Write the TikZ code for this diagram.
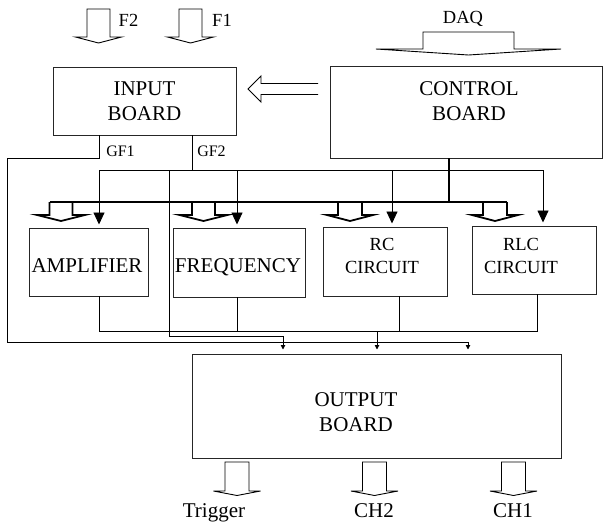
\documentclass[tikz,border=0pt]{standalone}
\usepackage{fontspec}
\setmainfont{Liberation Serif}
\usetikzlibrary{arrows.meta}
\begin{document}
\begin{tikzpicture}[x=1pt,y=-1pt,
  box/.style={draw=black!85, line width=1pt, inner sep=0pt, outer sep=0pt},
  wire/.style={line width=0.9pt},
  bus/.style={line width=2.6pt},
  txt/.style={inner sep=0pt, align=center, font=\fontsize{21}{25}\selectfont},
  smalltxt/.style={inner sep=0pt, align=center, font=\fontsize{18.5}{23}\selectfont},
  tagtxt/.style={inner sep=0pt, font=\fontsize{16}{18}\selectfont},
  bigtip/.style={-{Triangle[width=11pt,length=12pt]}, shorten >=3.5pt},
  tinytip/.style={-{Triangle[width=4.5pt,length=4.5pt]}, shorten >=4.5pt},
  % hollow block arrow pointing down: shaft half width / shaft length / head half width / head length
  pics/openblock/.style args={#1/#2/#3/#4}{code={
    \path[pic actions] (-#1,0) -- (-#1,#2) -- (-#3,#2) -- (0,#2+#4) -- (#3,#2) -- (#1,#2) -- (#1,0);}},
  pics/closedblock/.style args={#1/#2/#3/#4}{code={
    \path[pic actions] (-#1,0) -- (-#1,#2) -- (-#3,#2) -- (0,#2+#4) -- (#3,#2) -- (#1,#2) -- (#1,0) -- cycle;}},
]
\useasboundingbox (0,0) rectangle (603,523);

% boards and circuit blocks
\node[box, txt, minimum width=183pt, minimum height=68pt] (input) at (144.5,101) {INPUT\\BOARD};
\node[box, minimum width=272pt, minimum height=92pt] (control) at (466,112) {};
\node[txt] (controltext) at (469,101) {CONTROL\\BOARD};

\node[box, minimum width=119pt, minimum height=68pt] (amp) at (88.5,262) {};
\node[txt, anchor=base] (amptext) at (87,272) {AMPLIFIER};
\node[box, minimum width=132pt, minimum height=69pt] (freq) at (239,262.5) {};
\node[txt, anchor=base] (freqtext) at (238,272) {FREQUENCY};
\node[box, minimum width=124pt, minimum height=69pt] (rc) at (385,261.5) {};
\node[smalltxt] (rctext) at (382,255.5) {RC\\CIRCUIT};
\node[box, minimum width=124pt, minimum height=68pt] (rlc) at (534,260) {};
\node[smalltxt] (rlctext) at (521,255.5) {RLC\\CIRCUIT};

\node[box, minimum width=369pt, minimum height=104pt] (output) at (376.5,406) {};
\node[txt] (outputtext) at (356,412.5) {OUTPUT\\BOARD};

% inputs F2, F1 and DAQ
\pic[draw, wire] at (98.5,9) {closedblock=11.5/28/23/6};
\pic[draw, wire] at (190.5,9) {closedblock=11.5/28/23/6};
\node[smalltxt, anchor=base] (ftwo) at (128.5,26) {F2};
\node[smalltxt, anchor=base] (fone) at (222,26) {F1};
\pic[draw, wire] at (468.5,32) {closedblock=45.5/17/92.5/6};
\node[smalltxt, anchor=base] (daq) at (463,23.5) {DAQ};

% control to input
\draw[wire] (318,83.5) -- (261,83.5) -- (261,76) -- (248,89) -- (261,102) -- (261,94.5) -- (318,94.5);

% GF labels
\node[tagtxt, anchor=base] (gfone) at (120.5,156.5) {GF1};
\node[tagtxt, anchor=base] (gftwo) at (211.5,156.5) {GF2};

% GF1 round the left side to the output board
\draw[wire, tinytip] (input.south -| 99,0) |- (7,158) |- (468,342) -- (output.north -| 468,0);

% GF2 feeding the circuit blocks
\draw[wire] (input.south -| 192,0) -- (192,170);
\draw[wire, bigtip] (192,170) -| (amp.north -| 99,0);
\draw[wire, bigtip] (192,170) -| (rlc.north -| 543,0);
\draw[wire, bigtip] (237,170) -- (freq.north -| 237,0);
\draw[wire, bigtip] (392,170) -- (rc.north -| 392,0);
\draw[wire, tinytip] (169,170) |- (283,336) -- (output.north -| 283,0);

% control bus
\draw[bus] (control.south -| 449,0) -- (449,202);
\draw[bus] (49.5,202) -- (507,202);
\pic[draw, line width=1.8pt] at (61,202) {openblock=11.5/13/24/6};
\pic[draw, line width=1.8pt] at (203.5,202) {openblock=11.5/13/24/6};
\pic[draw, line width=1.8pt] at (350,202) {openblock=12/13/23/6};
\pic[draw, line width=1.8pt] at (495,202) {openblock=12/13/23/6};

% circuit outputs
\draw[wire] (amp.south -| 99,0) |- (537,331) -- (rlc.south -| 537,0);
\draw[wire] (freq.south -| 237,0) -- (237,331);
\draw[wire] (rc.south -| 399,0) -- (399,331);
\draw[wire, tinytip] (377,331) -- (output.north -| 377,0);

% outputs
\pic[draw, wire] at (237,462) {closedblock=12/29/23.5/4.5};
\pic[draw, wire] at (374.5,462) {closedblock=12/29/23.5/4.5};
\pic[draw, wire] at (513.5,462) {closedblock=12/29/23.5/4.5};
\node[txt, anchor=base] (trig) at (214,517.5) {Trigger};
\node[txt, anchor=base] (chtwo) at (374,517.5) {CH2};
\node[txt, anchor=base] (chone) at (513,517.5) {CH1};
\end{tikzpicture}
\end{document}
